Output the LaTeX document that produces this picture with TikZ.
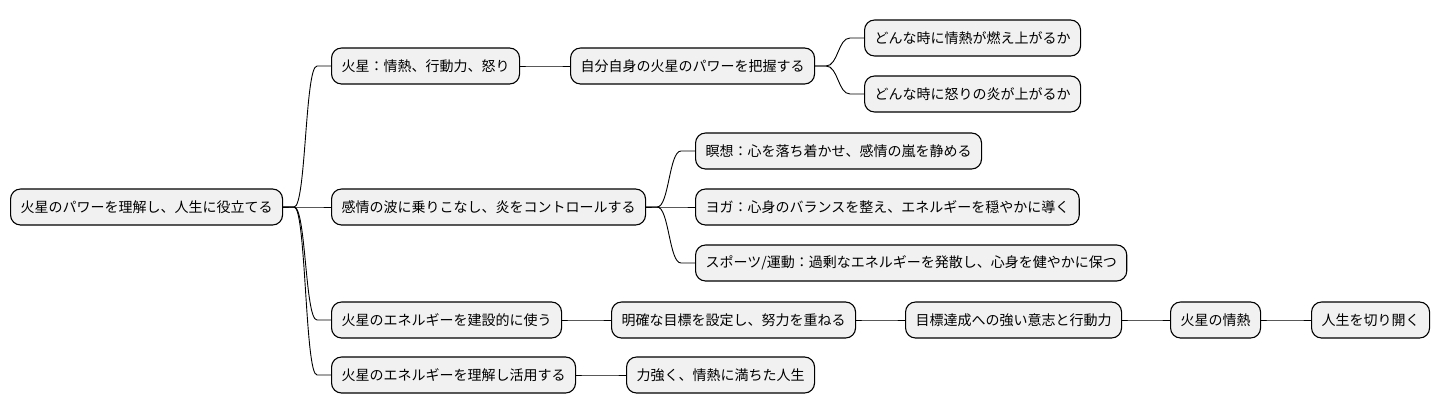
\documentclass[tikz,border=0pt]{standalone}
\usepackage{fontspec}
\setmainfont{Noto Sans CJK JP}
\usetikzlibrary{calc}
\definecolor{boxfill}{HTML}{F1F1F1}
\tikzset{
  mm/.style={draw=black, fill=boxfill, line width=1.1pt, rounded corners=10pt,
    minimum height=36pt, inner xsep=10pt, inner ysep=0pt, anchor=west,
    font=\fontsize{14pt}{16pt}\selectfont},
  conn/.style={draw=black, line width=0.9pt},
}
\newcommand{\link}[2]{%
  \draw[conn] (#1.east) -- ++(11,0) coordinate (f)
    .. controls +(12,0) and ($(#2.west)+(-26,0)$) .. ($(#2.west)+(-14,0)$) -- (#2.west);}
\begin{document}
\begin{tikzpicture}[x=1pt,y=-1pt]
\useasboundingbox (0,0) rectangle (1440,415);
\node[mm] (r) at (10,207) {火星のパワーを理解し、人生に役立てる};
\node[mm] (a) at (331,66) {火星：情熱、行動力、怒り};
\node[mm] (b) at (331,207) {感情の波に乗りこなし、炎をコントロールする};
\node[mm] (c) at (331,320) {火星のエネルギーを建設的に使う};
\node[mm] (d) at (331,375) {火星のエネルギーを理解し活用する};
\node[mm] (a1) at (570,66) {自分自身の火星のパワーを把握する};
\node[mm] (a11) at (864,38) {どんな時に情熱が燃え上がるか};
\node[mm] (a12) at (864,94) {どんな時に怒りの炎が上がるか};
\node[mm] (b1) at (695,151) {瞑想：心を落ち着かせ、感情の嵐を静める};
\node[mm] (b2) at (695,207) {ヨガ：心身のバランスを整え、エネルギーを穏やかに導く};
\node[mm] (b3) at (695,263) {スポーツ/運動：過剰なエネルギーを発散し、心身を健やかに保つ};
\node[mm] (c1) at (611,320) {明確な目標を設定し、努力を重ねる};
\node[mm] (c2) at (905,320) {目標達成への強い意志と行動力};
\node[mm] (c3) at (1170,320) {火星の情熱};
\node[mm] (c4) at (1311,320) {人生を切り開く};
\node[mm] (d1) at (626,375) {力強く、情熱に満ちた人生};
\link{r}{a}\link{r}{b}\link{r}{c}\link{r}{d}
\link{a}{a1}\link{a1}{a11}\link{a1}{a12}
\link{b}{b1}\link{b}{b2}\link{b}{b3}
\link{c}{c1}\link{c1}{c2}\link{c2}{c3}\link{c3}{c4}
\link{d}{d1}
\end{tikzpicture}
\end{document}
